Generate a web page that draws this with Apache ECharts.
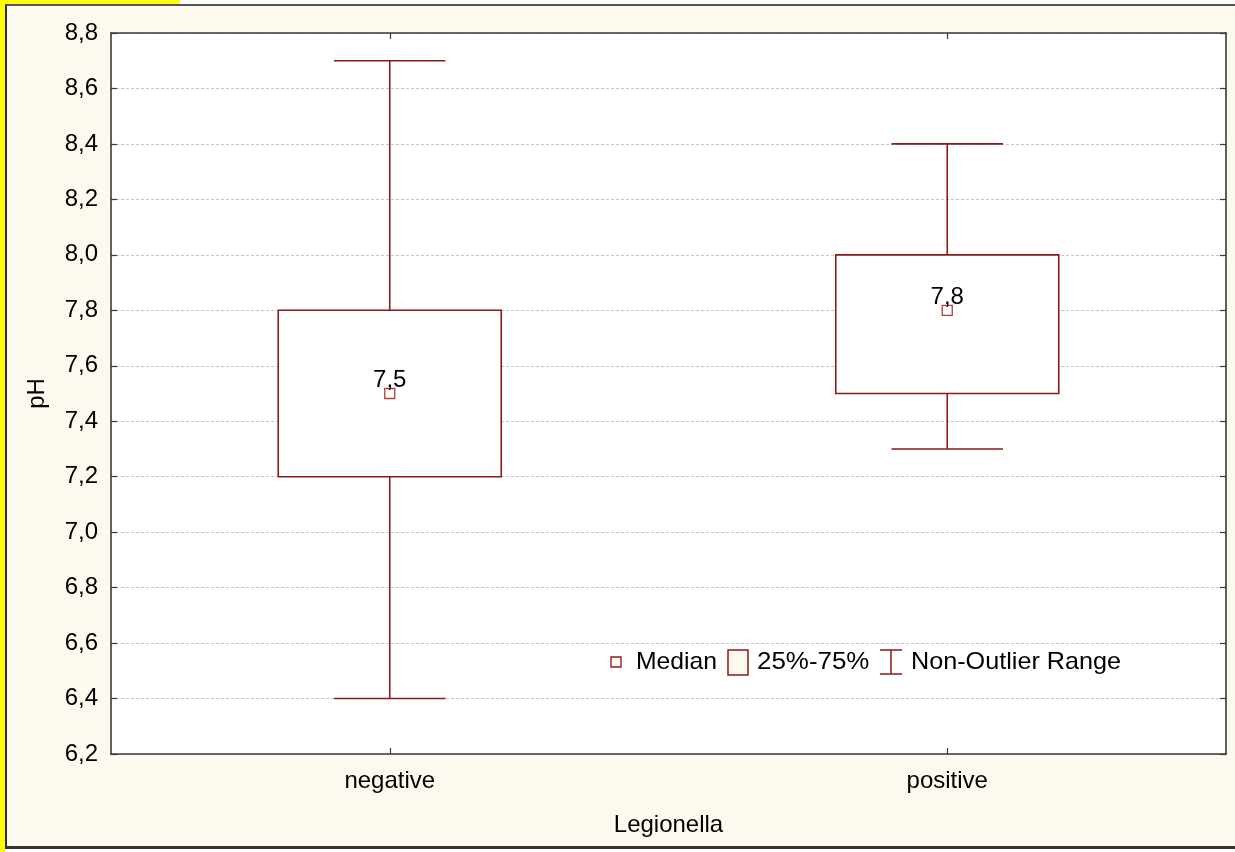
<!DOCTYPE html>
<html>
<head>
<meta charset="utf-8">
<script src="https://cdn.jsdelivr.net/npm/echarts@6/dist/echarts.min.js"></script>
<style>
  html, body { margin: 0; padding: 0; background: #ffffff; width: 1235px; height: 852px; overflow: hidden; }
  #frame { position: absolute; left: 5px; top: 4px; width: 1230px; height: 845px; box-sizing: border-box;
           background: #fdf9ef; border-left: 2px solid #2e2e2e; border-top: 2px solid #555; border-bottom: 3px solid #333; }
  #yl { position: absolute; left: 0; top: 0; width: 5px; height: 852px; background: #ffff00; }
  #yt { position: absolute; left: 0; top: 0; width: 180px; height: 4px; background: #ffff00; }
  #chart { position: absolute; left: 0; top: 0; width: 1235px; height: 852px; }
</style>
</head>
<body>
<div id="yl"></div><div id="yt"></div>
<div id="frame"></div>
<div id="chart"></div>
<script>
// ---- data ----
const categories = ['negative', 'positive'];
const mins    = [6.4, 7.3];
const q1s     = [7.2, 7.5];
const medians = [7.5, 7.8];
const q3s     = [7.8, 8.0];
const maxs    = [8.7, 8.4];
const yTicks  = [6.2, 6.4, 6.6, 6.8, 7.0, 7.2, 7.4, 7.6, 7.8, 8.0, 8.2, 8.4, 8.6, 8.8];
const legendLabels = ['Median', '25%-75%', 'Non-Outlier Range'];
const xTitle = 'Legionella';
const yTitle = 'pH';

const fmt = v => Number(v).toFixed(1).replace('.', ',');
const FONT = '"Liberation Sans", Arial, sans-serif';
const FS = 24;
const RED = '#8b1a1a';
const MRED = '#b04040';

const chart = echarts.init(document.getElementById('chart'), null, { renderer: 'canvas' });

const boxData = categories.map((c, i) => [i, mins[i], q1s[i], medians[i], q3s[i], maxs[i]]);

function renderBox(params, api) {
  const x = api.value(0);
  const pMin = api.coord([x, api.value(1)]);
  const pQ1 = api.coord([x, api.value(2)]);
  const pMed = api.coord([x, api.value(3)]);
  const pQ3 = api.coord([x, api.value(4)]);
  const pMax = api.coord([x, api.value(5)]);
  const band = api.size([1, 0])[0];
  const hb = band * 0.2;
  const hc = band * 0.1;
  const cx = pMed[0];
  const ls = { stroke: RED, lineWidth: 1.6 };
  return {
    type: 'group',
    children: [
      { type: 'line', shape: { x1: cx, y1: pQ3[1], x2: cx, y2: pMax[1] }, style: ls },
      { type: 'line', shape: { x1: cx, y1: pQ1[1], x2: cx, y2: pMin[1] }, style: ls },
      { type: 'line', shape: { x1: cx - hc, y1: pMax[1], x2: cx + hc, y2: pMax[1] }, style: ls },
      { type: 'line', shape: { x1: cx - hc, y1: pMin[1], x2: cx + hc, y2: pMin[1] }, style: ls },
      { type: 'rect', shape: { x: cx - hb, y: pQ3[1], width: 2 * hb, height: pQ1[1] - pQ3[1] },
        style: { fill: '#ffffff', stroke: RED, lineWidth: 1.6 } },
      { type: 'rect', shape: { x: cx - 5, y: pMed[1] - 5, width: 10, height: 10 },
        style: { fill: '#ffffff', stroke: MRED, lineWidth: 1.3 } },
      { type: 'text', x: cx, y: pMed[1] - 13,
        style: { text: fmt(api.value(3)), fill: '#000', font: FS + 'px ' + FONT, align: 'center', verticalAlign: 'middle' } }
    ]
  };
}

const axisLineStyle = { color: '#3a3a3a', width: 1.6 };

const legendY = 662;
const legendFont = FS + 'px ' + FONT;

chart.setOption({
  animation: false,
  backgroundColor: 'transparent',
  grid: { left: 111, top: 33, width: 1115, height: 721, show: true, backgroundColor: '#ffffff', borderWidth: 0 },
  xAxis: [
    {
      type: 'category', data: categories, position: 'bottom',
      name: xTitle, nameLocation: 'middle', nameGap: 59,
      nameTextStyle: { color: '#000', fontSize: FS, fontFamily: FONT },
      axisLine: { lineStyle: axisLineStyle },
      axisTick: { show: true, inside: true, alignWithLabel: true, length: 6, lineStyle: { color: '#3a3a3a', width: 1.2 } },
      axisLabel: { color: '#000', fontSize: FS, fontFamily: FONT, margin: 15 },
      splitLine: { show: false }
    },
    {
      type: 'category', data: categories, position: 'top',
      axisLine: { lineStyle: axisLineStyle },
      axisTick: { show: true, inside: true, alignWithLabel: true, length: 6, lineStyle: { color: '#3a3a3a', width: 1.2 } },
      axisLabel: { show: false },
      splitLine: { show: false }
    }
  ],
  yAxis: [
    {
      type: 'value', min: yTicks[0], max: yTicks[yTicks.length - 1], interval: 0.2,
      name: yTitle, nameLocation: 'middle', nameGap: 62, nameRotate: 90,
      nameTextStyle: { color: '#000', fontSize: FS, fontFamily: FONT },
      axisLine: { show: true, lineStyle: axisLineStyle },
      axisTick: { show: true, inside: true, length: 6, lineStyle: { color: '#3a3a3a', width: 1.2 } },
      axisLabel: { color: '#000', fontSize: FS, fontFamily: FONT, margin: 13, formatter: v => fmt(v) },
      splitLine: { show: true, lineStyle: { color: '#c4c4c4', type: [3, 2], width: 1 } }
    },
    {
      type: 'value', min: yTicks[0], max: yTicks[yTicks.length - 1], interval: 0.2, position: 'right',
      axisLine: { show: true, lineStyle: axisLineStyle },
      axisTick: { show: true, inside: true, length: 6, lineStyle: { color: '#3a3a3a', width: 1.2 } },
      axisLabel: { show: false },
      splitLine: { show: false }
    }
  ],
  series: [{
    type: 'custom',
    renderItem: renderBox,
    data: boxData,
    encode: { x: 0, y: [1, 2, 3, 4, 5] },
    z: 5
  }],
  graphic: [
    { type: 'rect', shape: { x: 611, y: legendY - 5, width: 10, height: 10 }, style: { fill: '#fdf9ef', stroke: RED, lineWidth: 1.3 }, z: 100 },
    { type: 'text', x: 636, y: legendY, scaleX: 1.03, style: { text: legendLabels[0], font: legendFont, fill: '#000', verticalAlign: 'middle' }, z: 100 },
    { type: 'rect', shape: { x: 728, y: legendY - 12, width: 20, height: 25 }, style: { fill: '#fdf9ef', stroke: RED, lineWidth: 1.5 }, z: 100 },
    { type: 'text', x: 757, y: legendY, scaleX: 1.08, style: { text: legendLabels[1], font: legendFont, fill: '#000', verticalAlign: 'middle' }, z: 100 },
    { type: 'line', shape: { x1: 891, y1: legendY - 12, x2: 891, y2: legendY + 12 }, style: { stroke: RED, lineWidth: 1.5 }, z: 100 },
    { type: 'line', shape: { x1: 880, y1: legendY - 12, x2: 902, y2: legendY - 12 }, style: { stroke: RED, lineWidth: 1.5 }, z: 100 },
    { type: 'line', shape: { x1: 880, y1: legendY + 12, x2: 902, y2: legendY + 12 }, style: { stroke: RED, lineWidth: 1.5 }, z: 100 },
    { type: 'text', x: 911, y: legendY, scaleX: 1.05, style: { text: legendLabels[2], font: legendFont, fill: '#000', verticalAlign: 'middle' }, z: 100 }
  ]
});
</script>
</body>
</html>
